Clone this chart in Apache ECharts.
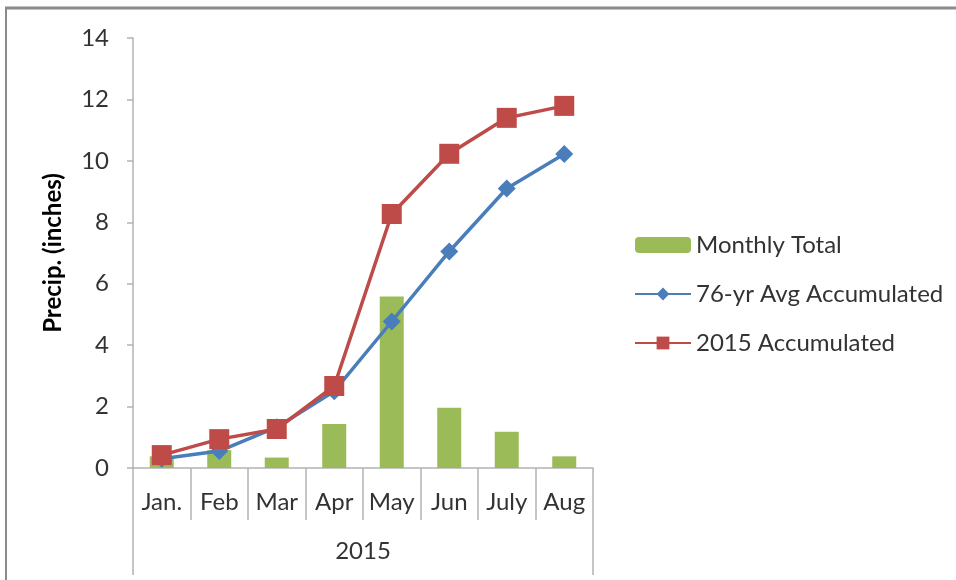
<!DOCTYPE html>
<html>
<head>
<meta charset="utf-8">
<script src="https://cdn.jsdelivr.net/npm/echarts@6/dist/echarts.min.js"></script>
<style>
  html, body { margin: 0; padding: 0; background: #fff; }
  #main { width: 956px; height: 580px; }
</style>
</head>
<body>
<div id="main"></div>
<script>
// 月份（X轴）
var months = ['Jan.', 'Feb', 'Mar', 'Apr', 'May', 'Jun', 'July', 'Aug'];
var yearLabel = ['2015'];
// 每月降水
var monthlyTotal = [0.38, 0.58, 0.34, 1.43, 5.58, 1.96, 1.18, 0.38];
// 76年平均累计
var avgAccum = [0.3, 0.55, 1.33, 2.5, 4.77, 7.05, 9.1, 10.22];
// 2015年累计
var accum2015 = [0.42, 0.94, 1.27, 2.67, 8.27, 10.23, 11.4, 11.79];
var yTicks = [0, 2, 4, 6, 8, 10, 12, 14];

var myChart = echarts.init(document.getElementById('main'));
var font = 'Lato, "Open Sans", sans-serif';
var textColor = '#333';
var axisGray = '#b3b3b3';

myChart.setOption({
    animation: false,
    backgroundColor: '#fff',
    textStyle: { fontFamily: font },
    graphic: [
        { type: 'line', shape: { x1: 5, y1: 8, x2: 956, y2: 8 }, style: { stroke: '#8a8a8a', lineWidth: 3 } },
        { type: 'line', shape: { x1: 6, y1: 8, x2: 6, y2: 580 }, style: { stroke: '#8a8a8a', lineWidth: 2 } }
    ],
    grid: { left: 133, right: 363, top: 38, bottom: 112, containLabel: false },
    legend: {
        orient: 'vertical',
        left: 629,
        top: 228,
        itemGap: 25,
        itemWidth: 56,
        itemHeight: 16,
        textStyle: { fontFamily: font, fontSize: 24, color: textColor },
        data: ['Monthly Total', '76-yr Avg Accumulated', '2015 Accumulated']
    },
    xAxis: [{
        type: 'category',
        data: months,
        boundaryGap: true,
        axisLine: { lineStyle: { color: axisGray, width: 1.5 } },
        axisTick: { show: true, alignWithLabel: false, length: 52, lineStyle: { color: axisGray, width: 1.5 } },
        axisLabel: { interval: 0, margin: 22, fontSize: 24, color: textColor, fontFamily: font }
    }, {
        type: 'category',
        data: yearLabel,
        position: 'bottom',
        offset: 52,
        boundaryGap: true,
        axisLine: { show: false },
        axisTick: { show: true, alignWithLabel: false, length: 55, lineStyle: { color: axisGray, width: 1.5 } },
        axisLabel: { margin: 19, fontSize: 24, color: textColor, fontFamily: font }
    }],
    yAxis: {
        type: 'value',
        min: 0,
        max: 14,
        interval: 2,
        name: 'Precip. (inches)',
        nameLocation: 'middle',
        nameGap: 68,
        nameTextStyle: { fontSize: 24, fontWeight: 'bold', color: '#000', fontFamily: font },
        axisLine: { show: true, lineStyle: { color: axisGray, width: 1.5 } },
        axisTick: { show: true, length: 6, lineStyle: { color: axisGray, width: 1.5 } },
        splitLine: { show: false },
        axisLabel: {
            margin: 24, fontSize: 24, color: textColor, fontFamily: font,
            formatter: function (v) { return yTicks.indexOf(v) >= 0 ? String(v) : ''; }
        }
    },
    series: [{
        name: 'Monthly Total',
        type: 'bar',
        data: monthlyTotal,
        barWidth: 24,
        itemStyle: { color: '#9bbb59' }
    }, {
        name: '76-yr Avg Accumulated',
        type: 'line',
        data: avgAccum,
        symbol: 'diamond',
        symbolSize: 18,
        lineStyle: { color: '#4a7ebb', width: 3.5 },
        itemStyle: { color: '#4a7ebb' }
    }, {
        name: '2015 Accumulated',
        type: 'line',
        data: accum2015,
        symbol: 'rect',
        symbolSize: 20,
        lineStyle: { color: '#be4b48', width: 3.5 },
        itemStyle: { color: '#be4b48' }
    }]
});
</script>
</body>
</html>
